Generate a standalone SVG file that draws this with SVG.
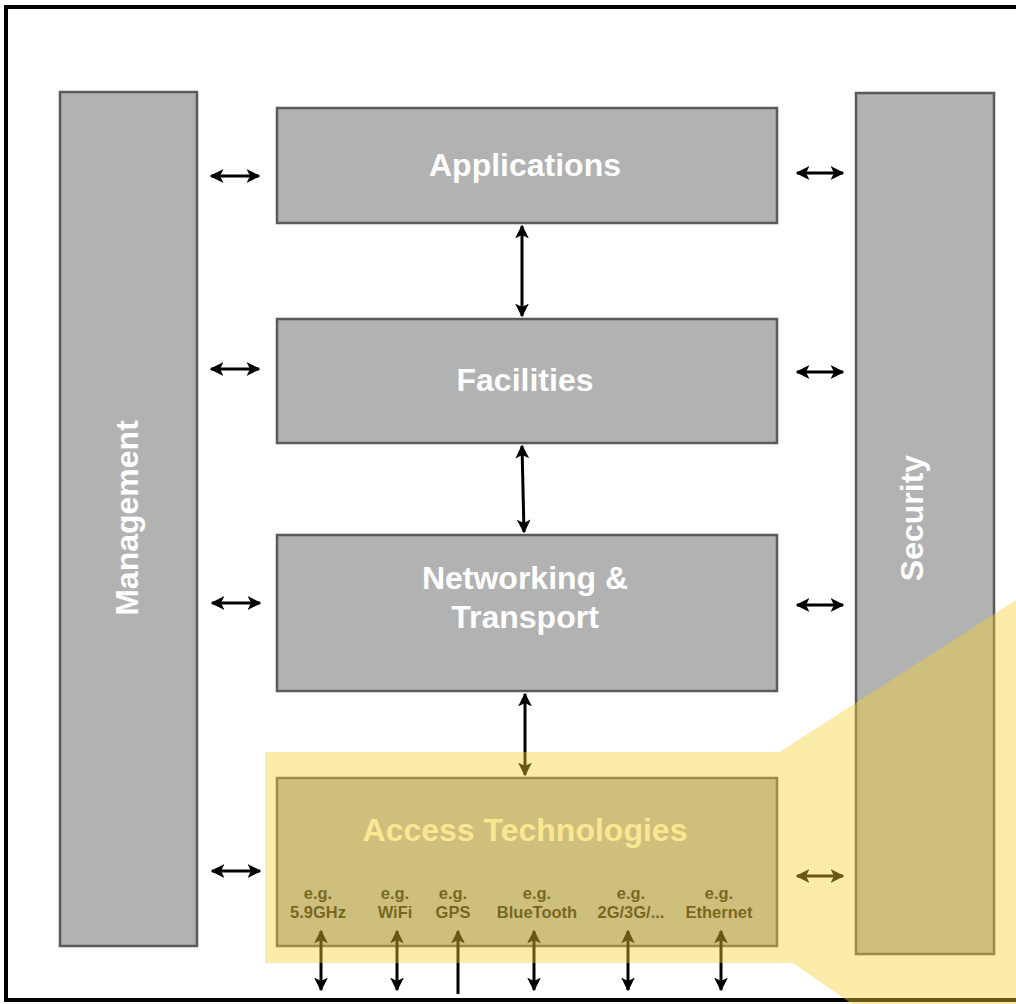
<svg xmlns="http://www.w3.org/2000/svg" width="1016" height="1004" viewBox="0 0 1016 1004">
<defs>
<style>
.box{fill:#b2b2b2;stroke:#5a5a5a;stroke-width:2.5}
.title{font-family:"Liberation Sans",Arial,sans-serif;font-weight:bold;font-size:32px;fill:#ffffff;text-anchor:middle}
.sub{font-family:"Liberation Sans",Arial,sans-serif;font-weight:bold;font-size:16.5px;fill:#1a1a14;text-anchor:middle}
.conn{stroke:#000;stroke-width:3;fill:none}
</style>
<marker id="ah" viewBox="0 0 10 10" refX="9" refY="5" markerWidth="4.6" markerHeight="5" orient="auto-start-reverse" markerUnits="strokeWidth">
<path d="M0,0 L10,5 L0,10 L2.5,5 Z" fill="#000"/>
</marker>
</defs>
<rect x="0" y="0" width="1016" height="1004" fill="#ffffff"/>
<path d="M1016,7 H6 V1000 H1016" fill="none" stroke="#000" stroke-width="4"/>

<g id="management">
<rect class="box" x="60" y="92" width="137" height="854"/>
<text class="title" transform="translate(138,518) rotate(-90)">Management</text>
</g>
<g id="security">
<rect class="box" x="856" y="93" width="138" height="861"/>
<text class="title" transform="translate(923,518) rotate(-90)">Security</text>
</g>
<g id="applications">
<rect class="box" x="277" y="108" width="500" height="115"/>
<text class="title" x="525" y="176">Applications</text>
</g>
<g id="facilities">
<rect class="box" x="277" y="319" width="500" height="124"/>
<text class="title" x="525" y="391">Facilities</text>
</g>
<g id="networking">
<rect class="box" x="277" y="535" width="500" height="156"/>
<text class="title" x="525" y="589">Networking &amp;</text>
<text class="title" x="525" y="628">Transport</text>
</g>
<g id="access">
<rect class="box" x="277" y="778" width="500" height="168"/>
<text class="title" x="525" y="841" style="fill:#fff6d8">Access Technologies</text>
<text class="sub" x="318" y="899">e.g.</text><text class="sub" x="318" y="918">5.9GHz</text>
<text class="sub" x="395" y="899">e.g.</text><text class="sub" x="395" y="918">WiFi</text>
<text class="sub" x="453" y="899">e.g.</text><text class="sub" x="453" y="918">GPS</text>
<text class="sub" x="537" y="899">e.g.</text><text class="sub" x="537" y="918">BlueTooth</text>
<text class="sub" x="631" y="899">e.g.</text><text class="sub" x="631" y="918">2G/3G/...</text>
<text class="sub" x="719" y="899">e.g.</text><text class="sub" x="719" y="918">Ethernet</text>
</g>

<g id="connectors">
<line class="conn" x1="211" y1="176" x2="259" y2="176" marker-start="url(#ah)" marker-end="url(#ah)"/>
<line class="conn" x1="211" y1="369" x2="259" y2="369" marker-start="url(#ah)" marker-end="url(#ah)"/>
<line class="conn" x1="212" y1="603" x2="260" y2="603" marker-start="url(#ah)" marker-end="url(#ah)"/>
<line class="conn" x1="212" y1="871" x2="260" y2="871" marker-start="url(#ah)" marker-end="url(#ah)"/>
<line class="conn" x1="797" y1="173" x2="843" y2="173" marker-start="url(#ah)" marker-end="url(#ah)"/>
<line class="conn" x1="797" y1="372" x2="843" y2="372" marker-start="url(#ah)" marker-end="url(#ah)"/>
<line class="conn" x1="797" y1="605" x2="843" y2="605" marker-start="url(#ah)" marker-end="url(#ah)"/>
<line class="conn" x1="797" y1="876" x2="843" y2="876" marker-start="url(#ah)" marker-end="url(#ah)"/>
<line class="conn" x1="522" y1="226" x2="522" y2="316" marker-start="url(#ah)" marker-end="url(#ah)"/>
<line class="conn" x1="522" y1="446" x2="524" y2="532" marker-start="url(#ah)" marker-end="url(#ah)"/>
<line class="conn" x1="525" y1="694" x2="525" y2="775" marker-start="url(#ah)" marker-end="url(#ah)"/>
<line class="conn" x1="321" y1="931" x2="321" y2="990" marker-start="url(#ah)" marker-end="url(#ah)"/>
<line class="conn" x1="397" y1="931" x2="397" y2="990" marker-start="url(#ah)" marker-end="url(#ah)"/>
<line class="conn" x1="458" y1="931" x2="458" y2="994" marker-start="url(#ah)"/>
<line class="conn" x1="534" y1="931" x2="534" y2="990" marker-start="url(#ah)" marker-end="url(#ah)"/>
<line class="conn" x1="628" y1="931" x2="628" y2="990" marker-start="url(#ah)" marker-end="url(#ah)"/>
<line class="conn" x1="721" y1="931" x2="721" y2="990" marker-start="url(#ah)" marker-end="url(#ah)"/>
</g>

<polygon points="265,752 780,752 795,742 1016,600 1016,1004 852,1004 793,963 265,963" fill="#f6d233" fill-opacity="0.42"/>
</svg>
